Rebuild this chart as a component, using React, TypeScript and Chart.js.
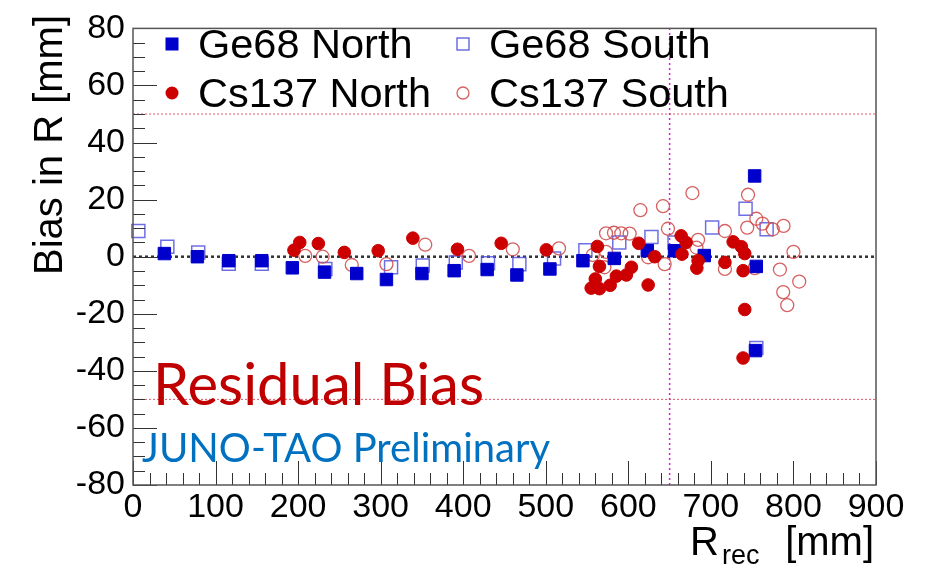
import React, { useEffect, useRef } from 'react';
import { Chart, registerables } from 'chart.js';

Chart.register(...registerables);

// ---------------- data ----------------
const GE68_NORTH_R = [38, 78, 116, 156, 193, 232, 271, 307, 350, 389, 429, 465, 505, 545, 583, 623, 656, 692, 753, 755, 754];
const GE68_NORTH_BIAS = [1.1, 0, -1.4, -1.4, -3.9, -5.4, -5.9, -8, -5.9, -4.9, -4.5, -6.4, -4.3, -1.4, -0.6, 2.1, 2.1, 0.4, 28.3, -3.4, -32.9];

const GE68_SOUTH_R = [6.5, 41.6, 79, 116, 156, 233, 312.6, 351, 391, 430, 468, 510, 548, 589, 628, 656, 701.5, 742, 767.5, 755];
const GE68_SOUTH_BIAS = [9, 3.5, 1.5, -2.5, -2.5, -4.3, -3.7, -3.1, -2, -2.3, -2.6, -0.6, 2.3, 5, 6.9, 5, 10.2, 16.8, 9.6, -32];

const CS137_NORTH_R = [195, 202, 224.5, 256, 297, 339, 393, 446, 500.6, 562.5, 565, 560, 555, 565, 578, 585.5, 597.6, 603.7, 612.6, 624, 632, 664, 670, 665, 684.5, 683, 717, 727, 737, 741, 739, 741, 739];
const CS137_NORTH_BIAS = [2.3, 5, 4.6, 1.5, 2.1, 6.5, 2.6, 4.7, 2.4, 3.6, -3.4, -7.8, -11, -11.2, -10, -6.8, -6.4, -3.7, 4.7, -9.9, 0, 7.3, 5, 0.9, -1.4, -4, -2, 5.2, 3.5, 1.1, -4.9, -18.5, -35.5];

const CS137_SOUTH_R = [208.6, 229.7, 265, 307, 354, 407, 460, 516, 557, 573, 571, 573, 582.6, 591.5, 601.6, 614.6, 642, 624, 644, 648, 677.6, 684.5, 682.5, 717, 717, 745, 744, 755, 762.5, 775, 788, 753, 800, 783.6, 807, 787.6, 792.5];
const CS137_SOUTH_BIAS = [0.3, 0, -2.9, -2.6, 4.2, 0.3, 2.6, 2.9, 0.6, 1.7, -3.7, 8.2, 8.4, 8.2, 8.1, 16.3, 17.7, -0.2, -2.6, 9.8, 22.3, 5.9, 3.2, 9, -4.3, 21.7, 10.2, 13.3, 11.6, 9.6, 10.8, -4, 1.7, -4.5, -8.7, -12.4, -17];

const SERIES_LABELS = ['Ge68 North', 'Ge68 South', 'Cs137 North', 'Cs137 South'];

const X_TICKS = [0, 100, 200, 300, 400, 500, 600, 700, 800, 900];
const Y_TICKS = [-80, -60, -40, -20, 0, 20, 40, 60, 80];
const X_MINOR_STEP = 20;
const Y_MINOR_STEP = 5;

const BIAS_LIMITS = [50, -50];
const ZERO_BIAS = 0;
const R_CUT = 650;

const Y_TITLE = 'Bias in R [mm]';
const X_TITLE_MAIN = 'R';
const X_TITLE_SUB = 'rec';
const X_TITLE_UNIT = '[mm]';
const NOTE_TITLE = 'Residual Bias';
const NOTE_SUBTITLE = 'JUNO-TAO Preliminary';

// ---------------- styles ----------------
const SANS = "'Liberation Sans', Arial, Helvetica, sans-serif";
const NOTE_FONT = "Lato, 'Open Sans', sans-serif";
const BLUE = '#0000cc';
const BLUE_OPEN = 'rgba(85,85,225,0.85)';
const RED = '#cc0000';
const RED_OPEN = 'rgba(210,80,80,0.9)';

const toPts = (xs: number[], ys: number[]) => xs.map((x, i) => ({ x, y: ys[i] }));

const rootPlugin = {
  id: 'rootStyle',
  afterDatasetsDraw(chart: any) {
    const { ctx, chartArea: a } = chart;
    const xs = chart.scales.x;
    const ys = chart.scales.y;
    ctx.save();
    ctx.strokeStyle = '#333';
    ctx.lineWidth = 1;
    ctx.beginPath();
    const x0 = X_TICKS[0];
    const x1 = X_TICKS[X_TICKS.length - 1];
    for (let v = x0; v <= x1 + 1e-6; v += X_MINOR_STEP) {
      const px = Math.round(xs.getPixelForValue(v)) + 0.5;
      const len = X_TICKS.includes(v) ? 24 : 12;
      ctx.moveTo(px, a.bottom);
      ctx.lineTo(px, a.bottom - len);
    }
    const y0 = Y_TICKS[0];
    const y1 = Y_TICKS[Y_TICKS.length - 1];
    for (let v = y0; v <= y1 + 1e-6; v += Y_MINOR_STEP) {
      const py = Math.round(ys.getPixelForValue(v)) + 0.5;
      const len = Y_TICKS.includes(v) ? 24 : 12;
      ctx.moveTo(a.left, py);
      ctx.lineTo(a.left + len, py);
    }
    ctx.stroke();
    ctx.strokeStyle = '#555';
    ctx.lineWidth = 1.5;
    ctx.strokeRect(a.left, a.top, a.right - a.left, a.bottom - a.top);
    ctx.restore();
  },
  afterDraw(chart: any) {
    const { ctx } = chart;
    ctx.save();
    ctx.fillStyle = '#000';
    ctx.textBaseline = 'alphabetic';

    // y title
    ctx.save();
    ctx.translate(62, 15);
    ctx.rotate(-Math.PI / 2);
    ctx.font = `40px ${SANS}`;
    ctx.textAlign = 'right';
    ctx.fillText(Y_TITLE, 0, 0);
    ctx.restore();

    // x title
    ctx.textAlign = 'left';
    ctx.font = `40px ${SANS}`;
    ctx.fillText(X_TITLE_MAIN, 690, 555);
    ctx.font = `27px ${SANS}`;
    ctx.fillText(X_TITLE_SUB, 722, 564);
    ctx.font = `40px ${SANS}`;
    ctx.textAlign = 'right';
    ctx.fillText(X_TITLE_UNIT, 874, 555);

    // notes
    ctx.textAlign = 'left';
    ctx.fillStyle = '#c00000';
    ctx.font = `58px ${NOTE_FONT}`;
    ctx.fillText(NOTE_TITLE, 153, 405);
    ctx.fillStyle = '#0070c0';
    ctx.font = `40px ${NOTE_FONT}`;
    ctx.fillText(NOTE_SUBTITLE, 142, 462);

    // legend
    const cols = [172, 463];
    const rows = [44, 93];
    const items = [
      { label: SERIES_LABELS[0], cx: cols[0], cy: rows[0], kind: 'sqFill' },
      { label: SERIES_LABELS[1], cx: cols[1], cy: rows[0], kind: 'sqOpen' },
      { label: SERIES_LABELS[2], cx: cols[0], cy: rows[1], kind: 'ciFill' },
      { label: SERIES_LABELS[3], cx: cols[1], cy: rows[1], kind: 'ciOpen' },
    ];
    items.forEach((it) => {
      ctx.beginPath();
      if (it.kind === 'sqFill') {
        ctx.fillStyle = BLUE;
        ctx.fillRect(it.cx - 6.5, it.cy - 6.5, 13, 13);
      } else if (it.kind === 'sqOpen') {
        ctx.strokeStyle = BLUE_OPEN;
        ctx.lineWidth = 1.5;
        ctx.strokeRect(it.cx - 6, it.cy - 6, 12, 12);
      } else if (it.kind === 'ciFill') {
        ctx.fillStyle = RED;
        ctx.arc(it.cx, it.cy, 6.5, 0, Math.PI * 2);
        ctx.fill();
      } else {
        ctx.strokeStyle = RED_OPEN;
        ctx.lineWidth = 1.3;
        ctx.arc(it.cx, it.cy, 6, 0, Math.PI * 2);
        ctx.stroke();
      }
      ctx.fillStyle = '#000';
      ctx.font = `41.5px ${SANS}`;
      ctx.textAlign = 'left';
      ctx.fillText(it.label, it.cx + 26, it.cy + 14);
    });
    ctx.restore();
  },
};

export default function App() {
  const ref = useRef<HTMLCanvasElement | null>(null);

  useEffect(() => {
    if (!ref.current) return;
    const xMin = X_TICKS[0];
    const xMax = X_TICKS[X_TICKS.length - 1];
    const refLine = (pts: { x: number; y: number }[], color: string, dash: number[], width: number) => ({
      type: 'scatter' as const,
      data: pts,
      showLine: true,
      borderColor: color,
      borderDash: dash,
      borderWidth: width,
      pointRadius: 0,
      fill: false,
      order: 10,
    });

    const chart = new Chart(ref.current, {
      type: 'scatter',
      data: {
        datasets: [
          {
            label: SERIES_LABELS[0],
            data: toPts(GE68_NORTH_R, GE68_NORTH_BIAS),
            pointStyle: 'rect',
            pointRadius: 8.8,
            backgroundColor: BLUE,
            borderColor: BLUE,
            borderWidth: 1,
            order: 2,
            clip: 12,
          },
          {
            label: SERIES_LABELS[1],
            data: toPts(GE68_SOUTH_R, GE68_SOUTH_BIAS),
            pointStyle: 'rect',
            pointRadius: 9.2,
            backgroundColor: 'rgba(0,0,0,0)',
            borderColor: BLUE_OPEN,
            borderWidth: 1.5,
            order: 4,
            clip: 12,
          },
          {
            label: SERIES_LABELS[2],
            data: toPts(CS137_NORTH_R, CS137_NORTH_BIAS),
            pointStyle: 'circle',
            pointRadius: 6.3,
            backgroundColor: RED,
            borderColor: RED,
            borderWidth: 1,
            order: 1,
            clip: 12,
          },
          {
            label: SERIES_LABELS[3],
            data: toPts(CS137_SOUTH_R, CS137_SOUTH_BIAS),
            pointStyle: 'circle',
            pointRadius: 6.5,
            backgroundColor: 'rgba(0,0,0,0)',
            borderColor: RED_OPEN,
            borderWidth: 1.3,
            order: 3,
            clip: 12,
          },
          refLine([{ x: xMin, y: ZERO_BIAS }, { x: xMax, y: ZERO_BIAS }], '#333', [3, 3], 2.5),
          refLine([{ x: xMin, y: BIAS_LIMITS[0] }, { x: xMax, y: BIAS_LIMITS[0] }], 'rgba(220,60,80,0.85)', [2, 2], 1),
          refLine([{ x: xMin, y: BIAS_LIMITS[1] }, { x: xMax, y: BIAS_LIMITS[1] }], 'rgba(220,60,80,0.85)', [2, 2], 1),
          refLine([{ x: R_CUT, y: Y_TICKS[0] }, { x: R_CUT, y: Y_TICKS[Y_TICKS.length - 1] }], '#d020d0', [2, 3], 1.5),
        ] as any,
      },
      options: {
        animation: false,
        responsive: false,
        devicePixelRatio: 1,
        events: [],
        layout: { padding: { top: 23, right: 50, left: 0, bottom: 0 } },
        plugins: {
          legend: { display: false },
          tooltip: { enabled: false },
        },
        scales: {
          x: {
            type: 'linear',
            min: xMin,
            max: xMax,
            grid: { display: false, drawTicks: false },
            border: { display: false },
            afterBuildTicks: (s: any) => {
              s.ticks = X_TICKS.map((v) => ({ value: v }));
            },
            afterFit: (s: any) => {
              s.height = 80;
            },
            ticks: {
              color: '#000',
              padding: 2,
              maxRotation: 0,
              autoSkip: false,
              font: { family: SANS, size: 34 },
              callback: (v: any) => String(v),
            },
          },
          y: {
            type: 'linear',
            min: Y_TICKS[0],
            max: Y_TICKS[Y_TICKS.length - 1],
            grid: { display: false, drawTicks: false },
            border: { display: false },
            afterBuildTicks: (s: any) => {
              s.ticks = Y_TICKS.map((v) => ({ value: v }));
            },
            afterFit: (s: any) => {
              s.width = 133;
            },
            ticks: {
              color: '#000',
              padding: 8,
              autoSkip: false,
              font: { family: SANS, size: 34 },
              callback: (v: any) => String(v),
            },
          },
        },
      } as any,
      plugins: [rootPlugin],
    });
    return () => chart.destroy();
  }, []);

  return (
    <div style={{ position: 'absolute', left: 0, top: 0, width: 926, height: 565, background: '#fff' }}>
      <canvas ref={ref} width={926} height={565} style={{ width: 926, height: 565, display: 'block' }} />
    </div>
  );
}
